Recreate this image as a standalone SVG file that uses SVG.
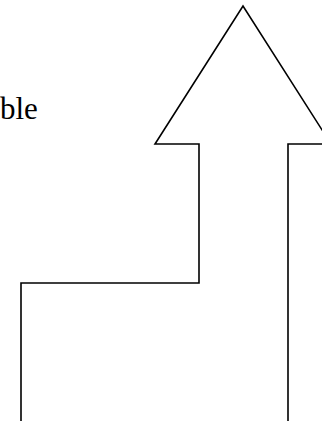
<svg xmlns="http://www.w3.org/2000/svg" width="322" height="421" viewBox="0 0 322 421">
<style>
.outline{fill:none;stroke:#000;stroke-width:1.6;stroke-linejoin:miter}
.lbl{font-family:"Liberation Serif",serif;font-size:31px;fill:#000}
</style>
<rect width="322" height="421" fill="#fff"/>
<g id="label"><text class="lbl" x="0" y="119">ble</text></g>
<g id="arrow"><polyline class="outline" points="21,425 21,283 199,283 199,144 155,144 243,6 331,144 288,144 288,425"/></g>
</svg>
